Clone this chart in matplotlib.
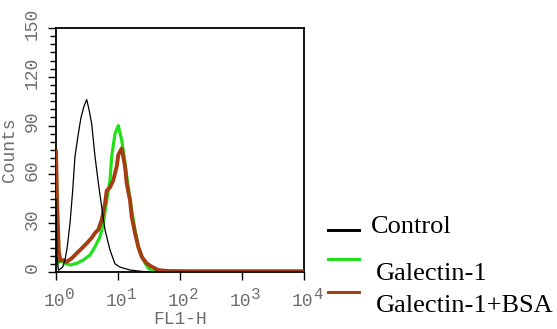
import matplotlib
matplotlib.use("Agg")
import matplotlib.pyplot as plt
import matplotlib.ticker as mticker
from matplotlib.lines import Line2D
import matplotlib.transforms as mtrans
import numpy as np

# ---- data (x in decades, log10 of FL1-H; y = counts) ----
control_dec = [0.0, 0.016, 0.040, 0.073, 0.108, 0.145, 0.182, 0.226, 0.269, 0.306,
               0.360, 0.403, 0.452, 0.495, 0.532, 0.576, 0.629, 0.682, 0.737, 0.790,
               0.871, 0.952, 1.032, 1.194, 1.403, 1.677, 4.0]
control_cnt = [45, 10, 1, 2, 3, 7.4, 15.5, 30, 50, 71,
               85, 95, 102, 106, 100, 91, 71, 55, 40, 26,
               13.5, 5, 3, 1.2, 0.3, 0, 0]

gal_dec = [0.0, 0.016, 0.040, 0.092, 0.145, 0.226, 0.334, 0.440, 0.548, 0.629,
           0.710, 0.763, 0.818, 0.871, 0.898, 0.952, 1.005, 1.060, 1.113, 1.166,
           1.221, 1.274, 1.327, 1.408, 1.489, 1.565, 1.840, 4.0]
gal_cnt = [3, 8, 6, 7, 5.3, 4.3, 5.3, 7.4, 10.4, 15.5,
           21.7, 30, 44, 56.5, 71, 85, 90, 81, 67, 52,
           38, 26, 15.5, 7.4, 2.3, 0.3, 0, 0]

bsa_dec = [0.0, 0.020, 0.045, 0.070, 0.108, 0.173, 0.253, 0.334, 0.415, 0.495,
           0.576, 0.629, 0.682, 0.737, 0.790, 0.818, 0.871, 0.925, 0.980, 1.005,
           1.060, 1.113, 1.140, 1.194, 1.221, 1.274, 1.327, 1.382, 1.463, 1.543,
           1.650, 1.800, 2.200, 3.000, 4.0]
bsa_cnt = [74, 40, 13, 7, 7.4, 6.3, 8.4, 11.5, 14.5, 17.6,
           21, 24, 26, 32, 42, 50, 52, 56.5, 65, 72,
           76, 65, 54.5, 44, 34, 24, 15.5, 9.4, 5.3, 3.3,
           1.2, 0.6, 0.5, 0.5, 0.5]

series_labels = ["Control", "Galectin-1", "Galectin-1+BSA"]
series_colors = ["#000000", "#22e01a", "#a33d12"]

y_ticks = [0, 30, 60, 90, 120, 150]
x_ticks = [1, 10, 100, 1000, 10000]
x_tick_base = ["10", "10", "10", "10", "10"]
x_tick_exp = ["0", "1", "2", "3", "4"]

# ---- figure ----
W, H = 557, 329
fig = plt.figure(figsize=(W / 100, H / 100), dpi=100)
ax = fig.add_axes([56 / W, 1 - 272 / H, (304 - 56) / W, (272 - 28) / H])

mono = "Liberation Mono"
gray = "#6e6e6e"
fs = 13

ax.plot(10 ** np.array(gal_dec), gal_cnt, color=series_colors[1], lw=2.3, zorder=2)
ax.plot(10 ** np.array(bsa_dec), bsa_cnt, color=series_colors[2], lw=2.8, zorder=3)
ax.plot(10 ** np.array(control_dec), control_cnt, color=series_colors[0], lw=0.9, zorder=4)

ax.set_xscale("log")
ax.set_xlim(1, 10000)
ax.set_ylim(0, 150)
ax.set_xticks(x_ticks)
ax.set_xticklabels(x_tick_base)
ax.xaxis.set_minor_locator(mticker.LogLocator(base=10, subs=np.arange(2, 10)))
ax.xaxis.set_minor_formatter(mticker.NullFormatter())
ax.set_yticks(y_ticks)
ax.yaxis.set_minor_locator(mticker.MultipleLocator(5))

for sp in ax.spines.values():
    sp.set_linewidth(1.3)
    sp.set_color("black")

ax.tick_params(axis="both", which="major", direction="out", length=6, width=1.0,
               color="black", labelcolor=gray, labelsize=fs)
ax.tick_params(axis="both", which="minor", direction="out", length=4, width=1.0, color="black")
ax.tick_params(axis="x", which="major", pad=9)
ax.tick_params(axis="y", which="major", pad=5)
ax.tick_params(top=False, right=False, which="both")

for lab in ax.get_xticklabels():
    lab.set_fontfamily(mono)
    lab.set_transform(lab.get_transform() + mtrans.ScaledTranslation(-2 / 100, 0, fig.dpi_scale_trans))
for lab in ax.get_yticklabels():
    lab.set_fontfamily(mono)
    lab.set_rotation(90)
    lab.set_va("center")
    lab.set_transform(lab.get_transform() + mtrans.ScaledTranslation(0, 4 / 100, fig.dpi_scale_trans))

# exponents of the x tick labels
xform = mtrans.blended_transform_factory(ax.transData, ax.transAxes)
for xt, ex in zip(x_ticks, x_tick_exp):
    ax.text(xt, 0, ex, transform=xform + mtrans.ScaledTranslation(9 / 100, -15 / 100, fig.dpi_scale_trans),
            fontfamily=mono, fontsize=11.5, color=gray, ha="left", va="top", clip_on=False)

ax.set_xlabel("FL1-H", fontfamily=mono, color=gray, fontsize=fs, labelpad=1)
ax.set_ylabel("Counts", fontfamily=mono, color=gray, fontsize=fs, labelpad=4)

# ---- legend (keys via legends, labels as text) ----
key_y = [232, 261, 294]
text_x = [371, 376, 376]
text_base = [233, 280, 311.5]
for i in range(3):
    h = Line2D([], [], color=series_colors[i], lw=2.0)
    leg = fig.legend(handles=[h], labels=[""], loc="center left",
                     bbox_to_anchor=(328 / W, 1 - key_y[i] / H),
                     frameon=False, borderpad=0, borderaxespad=0, handlelength=31 / 26,
                     handletextpad=0, prop={"family": "Liberation Serif", "size": 19})
    fig.add_artist(leg)
    fig.text(text_x[i] / W, 1 - text_base[i] / H, series_labels[i], fontfamily="Liberation Serif",
             fontsize=19, color="black", ha="left", va="baseline")

fig.savefig("out.png", dpi=100)
